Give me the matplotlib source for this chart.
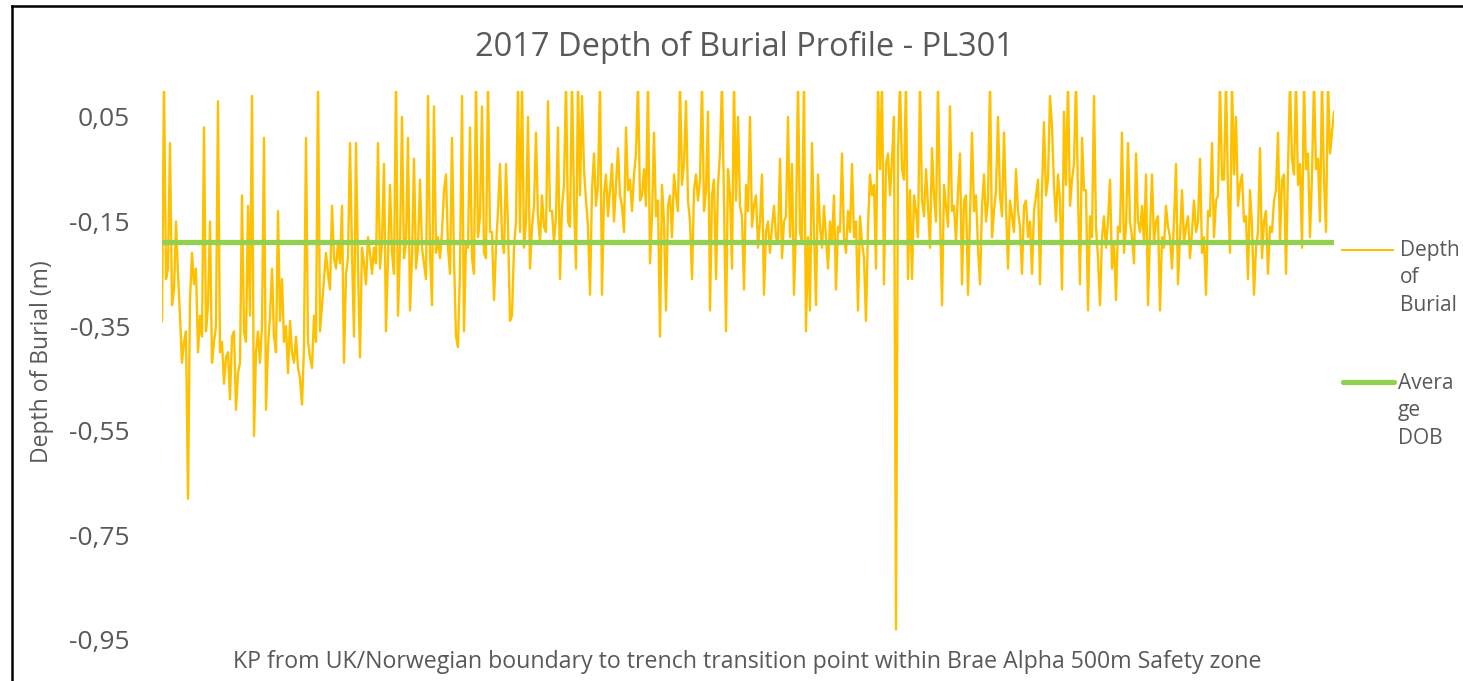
''' 2017 depth of burial profile - PL301 '''
import numpy as np
import matplotlib
matplotlib.use('Agg')
import matplotlib.pyplot as plt
from matplotlib.lines import Line2D
from matplotlib.ticker import FuncFormatter

plt.rcParams['font.family'] = ['Open Sans', 'DejaVu Sans']

# depth of burial (m), read along the pipeline from left to right
depth = [
    -0.34, 0.12, -0.26, -0.24, 0.00, -0.31, -0.28, -0.15, -0.25, -0.33, -0.42, -0.38, -0.36, -0.68, -0.30,
    -0.21, -0.27, -0.24, -0.40, -0.33, -0.37, 0.03, -0.36, -0.31, -0.15, -0.42, -0.38, -0.35, 0.08, -0.40,
    -0.38, -0.46, -0.41, -0.40, -0.49, -0.37, -0.36, -0.51, -0.44, -0.42, -0.10, -0.36, -0.38, -0.12, -0.33,
    0.09, -0.56, -0.40, -0.36, -0.42, -0.35, 0.01, -0.51, -0.39, -0.33, -0.24, -0.37, -0.40, -0.13, -0.34,
    -0.26, -0.38, -0.35, -0.44, -0.34, -0.40, -0.42, -0.37, -0.43, -0.45, -0.50, -0.39, 0.01, -0.38, -0.41,
    -0.43, -0.33, -0.38, 0.12, -0.36, -0.31, -0.26, -0.21, -0.25, -0.28, -0.12, -0.22, -0.24, -0.19, -0.23,
    -0.12, -0.42, -0.25, -0.22, 0.00, -0.21, -0.37, 0.00, -0.24, -0.41, -0.20, -0.23, -0.27, -0.18, -0.21,
    -0.25, -0.20, -0.23, 0.00, -0.24, -0.19, -0.04, -0.36, -0.22, -0.08, -0.21, -0.25, 0.12, -0.33, -0.20,
    0.05, -0.22, -0.19, 0.01, -0.32, -0.22, -0.03, -0.24, -0.20, -0.07, -0.20, -0.23, -0.26, 0.09, -0.21,
    -0.31, 0.07, -0.21, -0.18, -0.22, -0.17, -0.09, -0.06, -0.20, -0.25, 0.01, -0.22, -0.37, -0.39, -0.24,
    0.09, -0.36, -0.19, -0.20, 0.03, -0.22, -0.25, 0.12, -0.18, -0.14, 0.07, -0.21, -0.22, 0.12, -0.17,
    -0.17, -0.30, -0.20, -0.13, -0.04, -0.18, -0.21, -0.04, -0.16, -0.34, -0.33, -0.20, -0.15, 0.12, -0.17,
    0.12, -0.20, -0.15, 0.05, -0.24, -0.16, -0.12, 0.02, -0.14, -0.19, -0.10, -0.16, -0.17, 0.08, -0.13,
    -0.13, -0.19, -0.14, 0.03, -0.26, -0.12, -0.08, 0.12, -0.15, -0.16, 0.12, -0.11, -0.24, 0.12, -0.10,
    0.09, -0.05, -0.11, -0.16, -0.29, -0.09, -0.02, -0.12, -0.08, 0.12, -0.29, -0.10, -0.06, -0.14, -0.09,
    -0.04, -0.15, -0.08, -0.01, -0.10, -0.12, -0.17, 0.03, -0.09, -0.07, -0.13, -0.06, -0.02, 0.12, -0.11,
    -0.10, -0.05, -0.12, 0.12, -0.23, -0.14, 0.02, -0.14, -0.11, -0.37, -0.08, -0.15, -0.32, -0.12, -0.10,
    -0.18, -0.06, -0.10, -0.13, 0.12, -0.08, -0.04, 0.08, -0.11, -0.15, -0.26, -0.09, -0.06, -0.11, -0.07,
    0.12, -0.13, -0.09, 0.06, -0.32, -0.10, -0.07, -0.26, -0.08, -0.02, 0.12, -0.11, -0.36, -0.05, -0.10,
    -0.24, 0.12, -0.11, 0.05, -0.12, -0.14, -0.28, -0.08, -0.13, 0.05, -0.16, -0.12, -0.10, -0.20, -0.15,
    -0.06, -0.29, -0.17, -0.15, -0.21, -0.16, -0.12, -0.18, -0.19, -0.03, -0.22, -0.15, -0.14, 0.05, -0.18,
    -0.04, -0.29, -0.16, 0.12, -0.17, -0.19, 0.12, -0.36, -0.18, -0.32, 0.00, -0.17, -0.31, -0.06, -0.16,
    -0.20, -0.12, -0.18, -0.24, -0.15, -0.19, -0.10, -0.28, -0.16, -0.17, -0.02, -0.18, -0.21, -0.13, -0.17,
    -0.04, -0.18, -0.15, -0.32, -0.14, -0.19, -0.22, -0.34, -0.16, -0.06, -0.10, -0.08, -0.24, 0.12, -0.05,
    0.12, -0.27, -0.04, -0.02, -0.10, -0.03, 0.05, -0.93, -0.02, 0.12, -0.05, -0.07, 0.12, -0.26, -0.09,
    -0.26, -0.10, -0.13, -0.18, 0.12, -0.11, -0.14, -0.05, -0.12, -0.20, -0.01, -0.10, -0.15, 0.12, -0.13,
    -0.31, -0.08, -0.12, -0.16, 0.07, -0.13, -0.12, -0.19, -0.09, -0.02, -0.27, -0.11, -0.10, -0.29, -0.14,
    0.02, -0.13, -0.10, -0.20, -0.27, -0.12, -0.06, -0.15, -0.11, 0.12, -0.18, -0.13, -0.09, 0.05, -0.10,
    -0.14, 0.02, -0.12, -0.24, -0.11, -0.14, -0.17, -0.05, -0.13, -0.16, -0.25, -0.12, -0.11, -0.18, -0.15,
    -0.25, -0.13, -0.10, -0.07, -0.27, -0.09, 0.04, -0.10, -0.07, 0.09, 0.03, -0.08, -0.15, -0.06, -0.11,
    -0.28, 0.06, -0.08, 0.12, -0.12, -0.07, -0.04, 0.12, -0.10, -0.27, 0.01, -0.09, -0.09, -0.32, -0.14,
    -0.18, 0.09, -0.16, -0.22, -0.31, -0.18, -0.14, -0.20, -0.15, -0.07, -0.24, -0.19, -0.30, -0.16, -0.17,
    0.02, -0.21, -0.16, 0.00, -0.15, -0.18, -0.23, -0.02, -0.15, -0.17, -0.12, -0.19, -0.06, -0.31, -0.17,
    -0.06, -0.19, -0.15, -0.14, -0.32, -0.18, -0.20, -0.12, -0.16, -0.18, -0.24, -0.15, -0.04, -0.27, -0.18,
    -0.09, -0.19, -0.16, -0.14, -0.22, -0.17, -0.11, -0.17, -0.15, -0.03, -0.21, -0.18, -0.29, -0.13, -0.14,
    0.00, -0.18, -0.11, -0.10, 0.12, -0.07, -0.07, 0.12, -0.09, -0.21, 0.12, -0.06, 0.05, -0.12, -0.08,
    -0.06, -0.15, -0.14, -0.26, -0.09, -0.16, -0.29, -0.20, -0.17, -0.01, -0.22, -0.15, -0.13, -0.25, -0.16,
    -0.17, -0.11, -0.09, 0.02, -0.19, -0.07, -0.06, -0.25, -0.05, 0.12, -0.03, -0.06, 0.12, -0.08, -0.04,
    -0.20, 0.12, -0.05, -0.02, -0.18, -0.06, 0.12, -0.05, -0.03, -0.15, 0.12, -0.07, -0.17, 0.12, -0.02,
    0.02, 0.06,
]
avg_dob = -0.189
yticks = [-0.95, -0.75, -0.55, -0.35, -0.15, 0.05]

kp = np.arange(len(depth))

gold = '#FFC000'
green = '#92D050'
grey = '#595959'

fig = plt.figure(figsize=(14.63, 6.81), dpi=100)
ax = fig.add_axes([162 / 1463, 1 - 640 / 681, (1334 - 162) / 1463, (640 - 90.75) / 681])

ax.plot(kp, depth, color=gold, linewidth=1.7)
ax.plot([kp[0], kp[-1]], [avg_dob, avg_dob], color=green, linewidth=3.8,
        solid_capstyle='round')

ax.set_xlim(kp[0], kp[-1])
ax.set_ylim(-0.95, 0.1)
ax.set_yticks(yticks)
ax.yaxis.set_major_formatter(FuncFormatter(lambda v, pos: f'{v:.2f}'.replace('.', ',')))
ax.set_xticks([])
ax.tick_params(axis='y', length=0, pad=23, labelsize=19, labelcolor=grey)
for s in ax.spines.values():
    s.set_visible(False)

fig.text(0.509, 0.931, '2017 Depth of Burial Profile - PL301', ha='center', va='center',
         fontsize=23.5, color=grey)
fig.text(0.029, 1 - 362 / 681, 'Depth of Burial (m)', rotation=90, ha='center', va='center',
         fontsize=16.5, color=grey)
fig.text(0.511, 0.028, 'KP from UK/Norwegian boundary to trench transition point within '
         'Brae Alpha 500m Safety zone', ha='center', va='center', fontsize=16.7, color=grey)

# legend on the right, labels wrapped like the original
fig.add_artist(Line2D([1342 / 1463, 1393 / 1463], [1 - 250 / 681] * 2, color=gold,
                      linewidth=1.4, transform=fig.transFigure))
fig.text(1400 / 1463, 1 - 240 / 681, 'Depth\nof\nBurial', ha='left', va='top',
         fontsize=15, color=grey, linespacing=1.4)
fig.add_artist(Line2D([1343 / 1463, 1394 / 1463], [1 - 382 / 681] * 2, color=green,
                      linewidth=3.8, solid_capstyle='round', transform=fig.transFigure))
fig.text(1398 / 1463, 1 - 373 / 681, 'Avera\nge\nDOB', ha='left', va='top',
         fontsize=15, color=grey, linespacing=1.4)

# chart border
fig.add_artist(Line2D([12 / 1463, 12 / 1463], [0, 1 - 6 / 681], color='black',
                      linewidth=1.8, transform=fig.transFigure))
fig.add_artist(Line2D([12 / 1463, 1], [1 - 6 / 681] * 2, color='black',
                      linewidth=1.8, transform=fig.transFigure))

fig.savefig('out.png', dpi=100)
